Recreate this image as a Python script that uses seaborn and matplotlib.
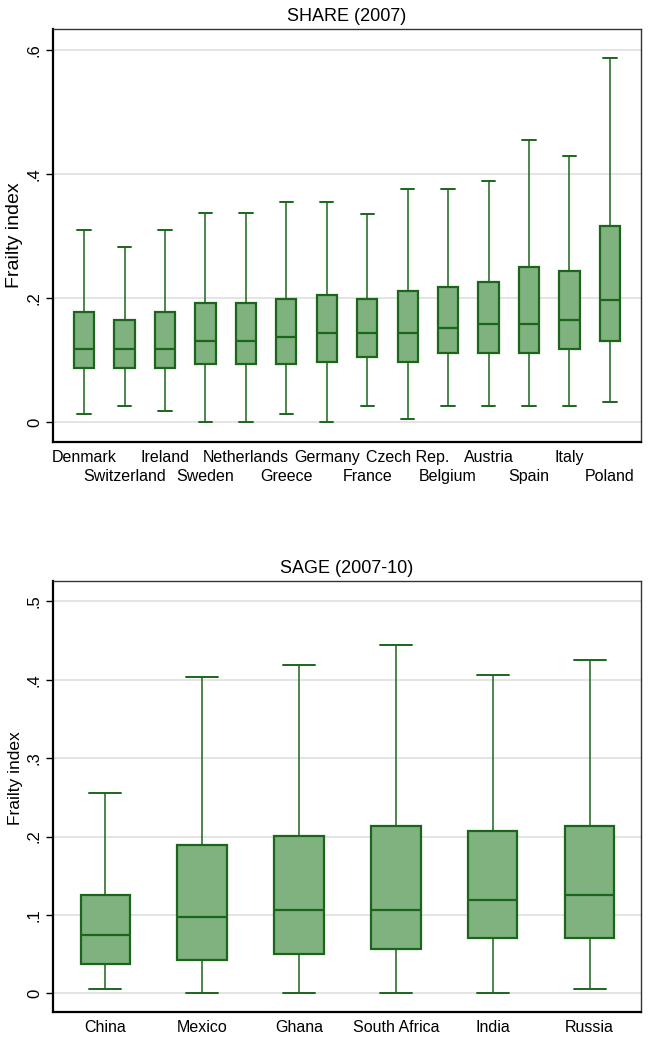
import numpy as np
import pandas as pd
import matplotlib
import matplotlib.pyplot as plt
import seaborn as sns
from matplotlib.ticker import FuncFormatter

matplotlib.use('Agg')

# --- SHARE (2007): five-number summaries ---
share_countries = ['Denmark', 'Switzerland', 'Ireland', 'Sweden', 'Netherlands',
                   'Greece', 'Germany', 'France', 'Czech Rep.', 'Belgium',
                   'Austria', 'Spain', 'Italy', 'Poland']
share_lo = [0.013, 0.026, 0.019, 0.0, 0.0, 0.013, 0.0, 0.026, 0.006, 0.026, 0.026, 0.026, 0.026, 0.033]
share_q1 = [0.087, 0.087, 0.087, 0.094, 0.094, 0.094, 0.098, 0.105, 0.098, 0.112, 0.112, 0.112, 0.119, 0.132]
share_med = [0.119, 0.119, 0.119, 0.132, 0.132, 0.138, 0.145, 0.145, 0.145, 0.152, 0.158, 0.158, 0.165, 0.198]
share_q3 = [0.178, 0.165, 0.178, 0.192, 0.192, 0.199, 0.206, 0.199, 0.212, 0.219, 0.226, 0.251, 0.244, 0.317]
share_hi = [0.310, 0.283, 0.310, 0.337, 0.337, 0.356, 0.356, 0.336, 0.376, 0.376, 0.389, 0.455, 0.430, 0.587]

# --- SAGE (2007-10) ---
sage_countries = ['China', 'Mexico', 'Ghana', 'South Africa', 'India', 'Russia']
sage_lo = [0.006, 0.0, 0.0, 0.0, 0.0, 0.006]
sage_q1 = [0.038, 0.043, 0.050, 0.057, 0.070, 0.070]
sage_med = [0.075, 0.097, 0.106, 0.106, 0.119, 0.125]
sage_q3 = [0.126, 0.189, 0.201, 0.214, 0.207, 0.214]
sage_hi = [0.256, 0.403, 0.419, 0.444, 0.406, 0.425]

FILL = '#80b27f'
EDGE = '#1b661b'


def five_num_frame(countries, lo, q1, med, q3, hi):
    # 5 points per group -> quartiles land exactly on the summary values
    rows = []
    for i, c in enumerate(countries):
        for v in (lo[i], q1[i], med[i], q3[i], hi[i]):
            rows.append((c, v))
    return pd.DataFrame(rows, columns=['country', 'frailty'])


def stata_fmt(v, pos):
    if abs(v) < 1e-9:
        return '0'
    return f'{v:.1f}'.lstrip('0')


def draw_panel(ax, df, order, title, yticks, ylim, xlim, width, stagger,
               ylab_size, ylab_y):
    sns.boxplot(data=df, x='country', y='frailty', order=order, ax=ax,
                whis=np.inf, width=width, color=FILL, saturation=1,
                linecolor=EDGE, linewidth=1.6, showfliers=False,
                capwidths=0.33,
                whiskerprops={'linewidth': 1.1},
                capprops={'linewidth': 1.4},
                medianprops={'linewidth': 1.6})
    ax.set_xlim(*xlim)
    ax.set_ylim(*ylim)
    ax.set_yticks(yticks)
    ax.yaxis.set_major_formatter(FuncFormatter(stata_fmt))
    ax.grid(axis='y', color='#dddddd', linewidth=1.1)
    ax.set_axisbelow(True)
    ax.set_xlabel('')
    ax.set_ylabel('Frailty index', fontsize=ylab_size, labelpad=3, color='black')
    ax.yaxis.label.set_y(ylab_y)
    ax.set_title(title, fontsize=13, pad=6, color='black')
    if stagger:
        # alternate labels on two rows, as Stata does when they crowd
        ax.set_xticks(range(0, len(order), 2))
        ax.set_xticklabels(order[0::2], fontsize=11.5, color='black')
        ax.set_xticks(range(1, len(order), 2), minor=True)
        ax.set_xticklabels(order[1::2], minor=True, fontsize=11.5, color='black')
        ax.tick_params(axis='x', which='minor', length=0, pad=20)
    else:
        ax.set_xticks(range(len(order)))
        ax.set_xticklabels(order, fontsize=11.5, color='black')
    ax.tick_params(axis='x', which='major', length=0, pad=6)
    ax.tick_params(axis='y', left=True, length=5, width=1, color='black',
                   labelsize=12, labelcolor='black', pad=3)
    for lab in ax.get_yticklabels():
        lab.set_rotation(90)
        lab.set_va('center')
    for side in ['left', 'bottom']:
        ax.spines[side].set_color('black')
        ax.spines[side].set_linewidth(1.6)
    for side in ['top', 'right']:
        ax.spines[side].set_visible(True)
        ax.spines[side].set_color('#333333')
        ax.spines[side].set_linewidth(1.0)


sns.set_style('white')
plt.rcParams['font.family'] = ['Liberation Sans', 'DejaVu Sans']

fig = plt.figure(figsize=(6.48, 10.41), dpi=100)
ax_top = fig.add_axes([0.0818, 0.5757, 0.9074, 0.396])
ax_bot = fig.add_axes([0.0818, 0.0281, 0.9074, 0.4134])

share_df = five_num_frame(share_countries, share_lo, share_q1, share_med, share_q3, share_hi)
sage_df = five_num_frame(sage_countries, sage_lo, sage_q1, sage_med, sage_q3, sage_hi)

draw_panel(ax_top, share_df, share_countries, 'SHARE (2007)',
           [0, 0.2, 0.4, 0.6], (-0.031, 0.6335), (-0.77, 13.77), 0.5, True,
           14, 0.5)
draw_panel(ax_bot, sage_df, sage_countries, 'SAGE (2007-10)',
           [0, 0.1, 0.2, 0.3, 0.4, 0.5], (-0.0235, 0.5255), (-0.54, 5.53), 0.51, False,
           12.5, 0.543)

fig.savefig('out.png', dpi=100)
plt.close(fig)
